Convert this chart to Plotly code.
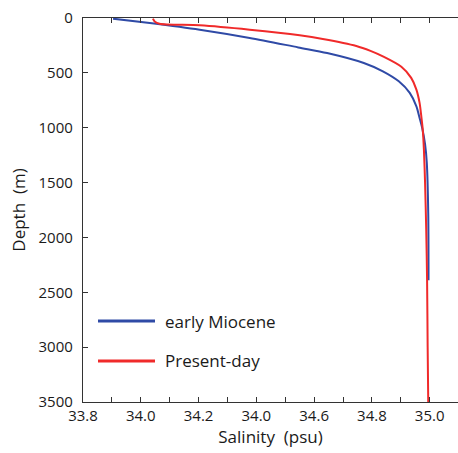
import plotly.graph_objects as go

# Data
miocene_depth = [6, 46, 107, 182, 268, 319, 410, 486, 577, 683, 805, 911, 1002, 1150, 1320, 1780, 2390]
miocene_sal = [33.904, 34.031, 34.204, 34.377, 34.545, 34.645, 34.772, 34.838, 34.893,
               34.931, 34.954, 34.965, 34.974, 34.984, 34.990, 34.995, 34.996]

present_depth = [6, 31, 52, 67, 107, 158, 191, 255, 300, 350, 445, 546, 653, 774, 896, 1017,
                 1200, 1500, 1930, 2390, 3000, 3500]
present_sal = [34.042, 34.048, 34.065, 34.204, 34.377, 34.550, 34.630, 34.746, 34.795, 34.838,
               34.902, 34.936, 34.954, 34.965, 34.971, 34.976, 34.980, 34.984, 34.988, 34.991,
               34.993, 34.995]

x_tickvals = [33.8, 33.9, 34.0, 34.1, 34.2, 34.3, 34.4, 34.5, 34.6, 34.7, 34.8, 34.9, 35.0]
x_ticktext = ["33.8", "", "34.0", "", "34.2", "", "34.0", "", "34.6", "", "34.8", "", "35.0"]
y_tickvals = [0, 500, 1000, 1500, 2000, 2500, 3000, 3500]

legend_names = ["early Miocene", "Present-day"]
blue = "#2f4aa6"
red = "#f02a2a"
font_family = "Open Sans, Noto Sans, sans-serif"

fig = go.Figure()
fig.add_trace(go.Scatter(x=miocene_sal, y=miocene_depth, mode="lines",
                         line=dict(color=blue, width=2, shape="spline", smoothing=0.8),
                         name=legend_names[0], showlegend=False))
fig.add_trace(go.Scatter(x=present_sal, y=present_depth, mode="lines",
                         line=dict(color=red, width=2, shape="spline", smoothing=0.8),
                         name=legend_names[1], showlegend=False))

# manual legend
for i, (name, col) in enumerate(zip(legend_names, [blue, red])):
    yp = [0.2109, 0.1068][i]
    fig.add_shape(type="line", xref="paper", yref="paper", x0=0.04, x1=0.192, y0=yp, y1=yp,
                  line=dict(color=col, width=3))
    fig.add_annotation(xref="paper", yref="paper", x=0.2133, y=yp, text=name, showarrow=False,
                       xanchor="left", yanchor="middle",
                       font=dict(family=font_family, size=17, color="#1a1a1a"))

fig.update_layout(
    width=458, height=453,
    margin=dict(l=83, r=0, t=18, b=51),
    paper_bgcolor="white", plot_bgcolor="white",
    font=dict(family=font_family, size=15, color="#1a1a1a"),
)
fig.update_xaxes(range=[33.8, 35.098], tickvals=x_tickvals, ticktext=x_ticktext,
                 ticks="inside", ticklen=5, tickcolor="#333", showline=True, linecolor="#333",
                 linewidth=1.3, mirror="ticks", showgrid=False, zeroline=False, automargin=False,
                 title=dict(text="Salinity  (psu)", font=dict(size=17), standoff=2))
fig.update_yaxes(range=[3500, 0], tickvals=y_tickvals, ticks="inside", ticklen=5,
                 tickcolor="#333", showline=True, linecolor="#333", linewidth=1.3,
                 showgrid=False, zeroline=False, ticklabelstandoff=6, automargin=False,
                 title=dict(text="Depth  (m)", font=dict(size=17), standoff=8))

fig.write_html("out.html", config={"displayModeBar": False},
               post_script="document.body.style.margin='0';document.body.style.overflow='hidden';")
